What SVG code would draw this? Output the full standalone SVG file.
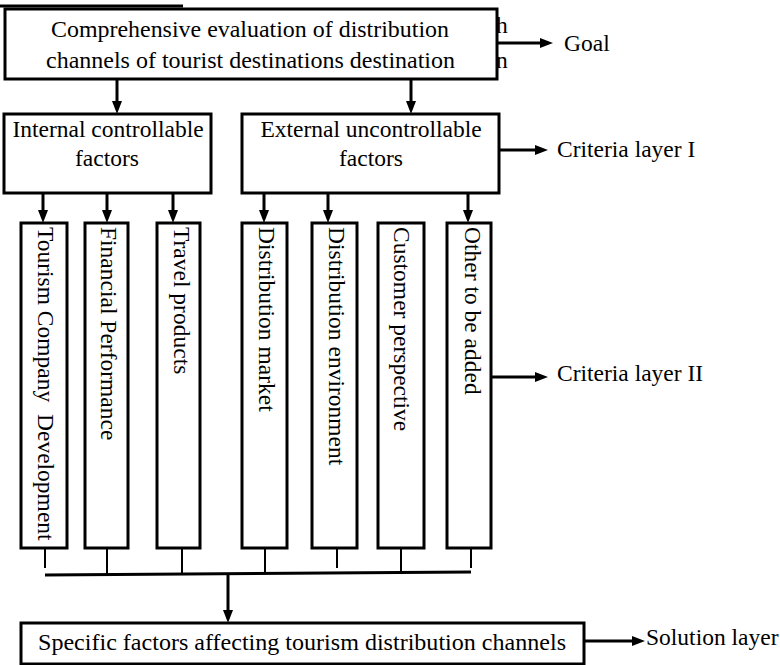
<svg xmlns="http://www.w3.org/2000/svg" width="780" height="665" viewBox="0 0 780 665">
<style>
text{font-family:"Liberation Serif","Times New Roman",serif;font-size:23.5px;fill:#000}
.box{fill:#fff;stroke:#000;stroke-width:3}
.c{text-anchor:middle}
.ln{stroke:#000;stroke-width:3;fill:none}
.stub{stroke:#000;stroke-width:2;fill:none}
.ar{marker-end:url(#ah)}
.v{white-space:pre}
</style>
<defs>
<marker id="ah" markerUnits="userSpaceOnUse" markerWidth="14" markerHeight="11" refX="2" refY="5" orient="auto">
<path d="M0,0 L13,5 L0,10 z" fill="#000"/>
</marker>
</defs>
<rect width="780" height="665" fill="#fff"/>
<g id="ghost">
<line x1="0" y1="6" x2="183" y2="6" class="ln" stroke-width="2.5"/>
<text x="496" y="33">h</text>
<text x="496" y="68">n</text>
</g>
<g id="connectors">
<line class="ln ar" x1="497" y1="43" x2="542" y2="43"/>
<line class="ln ar" x1="117" y1="80" x2="117" y2="103"/>
<line class="ln ar" x1="411" y1="80" x2="411" y2="103"/>
<line class="ln ar" x1="499" y1="150" x2="537" y2="150"/>
<line class="ln ar" x1="43" y1="193" x2="43" y2="212"/>
<line class="ln ar" x1="107" y1="193" x2="107" y2="212"/>
<line class="ln ar" x1="173" y1="193" x2="173" y2="212"/>
<line class="ln ar" x1="264" y1="193" x2="264" y2="212"/>
<line class="ln ar" x1="328" y1="193" x2="328" y2="212"/>
<line class="ln ar" x1="468" y1="193" x2="468" y2="212"/>
<line class="ln ar" x1="491" y1="377" x2="537" y2="377"/>
<line class="stub" x1="45" y1="548" x2="45" y2="568"/>
<line class="stub" x1="107" y1="548" x2="107" y2="574"/>
<line class="stub" x1="182" y1="548" x2="182" y2="574"/>
<line class="stub" x1="265" y1="548" x2="265" y2="574"/>
<line class="stub" x1="337" y1="548" x2="337" y2="568"/>
<line class="stub" x1="401" y1="548" x2="401" y2="573"/>
<line class="stub" x1="471" y1="548" x2="471" y2="568"/>
<line class="ln" x1="45" y1="575" x2="471" y2="572"/>
<line class="ln ar" x1="228" y1="574" x2="228" y2="612"/>
<line class="ln ar" x1="584" y1="641" x2="634" y2="641"/>
</g>
<g id="goal">
<rect class="box" x="5" y="9" width="492" height="70"/>
<text class="c" x="250" y="37" textLength="398" lengthAdjust="spacingAndGlyphs">Comprehensive evaluation of distribution</text>
<text class="c" x="250.5" y="68" textLength="409" lengthAdjust="spacingAndGlyphs">channels of tourist destinations destination</text>
</g>
<g id="label-goal"><text x="564" y="51">Goal</text></g>
<g id="internal">
<rect class="box" x="4" y="114" width="207" height="79"/>
<text class="c" x="108" y="137">Internal controllable</text>
<text class="c" x="107" y="166">factors</text>
</g>
<g id="external">
<rect class="box" x="242" y="114" width="257" height="79"/>
<text class="c" x="371" y="137">External uncontrollable</text>
<text class="c" x="371" y="166">factors</text>
</g>
<g id="label-c1"><text x="557" y="157">Criteria layer I</text></g>
<g id="col1"><rect class="box" x="21" y="223" width="46" height="325"/><text class="v" transform="translate(38,227) rotate(90)">Tourism Company  Development</text></g>
<g id="col2"><rect class="box" x="85" y="223" width="43" height="325"/><text transform="translate(101,227) rotate(90)">Financial Performance</text></g>
<g id="col3"><rect class="box" x="157" y="223" width="43" height="325"/><text transform="translate(174,227) rotate(90)">Travel products</text></g>
<g id="col4"><rect class="box" x="242" y="223" width="45" height="325"/><text transform="translate(259,227) rotate(90)">Distribution market</text></g>
<g id="col5"><rect class="box" x="312" y="223" width="45" height="325"/><text transform="translate(329,227) rotate(90)">Distribution environment</text></g>
<g id="col6"><rect class="box" x="378" y="223" width="46" height="325"/><text transform="translate(394,227) rotate(90)">Customer perspective</text></g>
<g id="col7"><rect class="box" x="447" y="223" width="44" height="325"/><text transform="translate(465,227) rotate(90)">Other to be added</text></g>
<g id="label-c2"><text x="557" y="381">Criteria layer II</text></g>
<g id="solution">
<rect class="box" x="21" y="623" width="563" height="41"/>
<text class="c" x="302" y="650" textLength="528" lengthAdjust="spacingAndGlyphs">Specific factors affecting tourism distribution channels</text>
</g>
<g id="label-sol"><text x="646" y="645">Solution layer</text></g>
</svg>
